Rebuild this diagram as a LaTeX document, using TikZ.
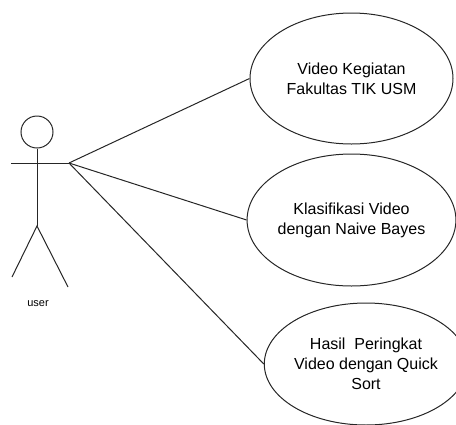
\documentclass[tikz,border=0pt]{standalone}
\usepackage{fontspec}
\setmainfont{Liberation Sans}
\usetikzlibrary{shapes.geometric}
\begin{document}
\begin{tikzpicture}[x=1pt,y=-1pt,
  lin/.style={draw=black!85, line width=1pt},
  usecase/.style={ellipse, lin, align=center, inner sep=0pt,
    minimum width=203pt, minimum height=131pt,
    font=\fontsize{16}{20}\selectfont},
  lbl/.style={font=\fontsize{11}{13}\selectfont, inner sep=0pt}]
\useasboundingbox (0,0) rectangle (456,424);
\clip (0,0) rectangle (456,424);
% actor
\node[circle, lin, minimum size=32pt, inner sep=0pt] (head) at (37,132) {};
\coordinate (hip) at (37,226);
\coordinate (lhand) at (11,163);
\coordinate (hand) at (69,163);
\coordinate (lfoot) at (12,277);
\coordinate (rfoot) at (68,287);
\draw[lin] (head.south) -- (hip);
\draw[lin] (lhand) -- (hand);
\draw[lin] (lfoot) -- (hip) -- (rfoot);
\node[lbl] (user) at (38,304) {user};
% use cases
\node[usecase] (e1) at (351.5,78.5) {Video Kegiatan\\Fakultas TIK USM};
\node[usecase, minimum height=132pt] (e2) at (351.5,220) {Klasifikasi Video\\dengan Naive Bayes};
\node[usecase, minimum height=122pt] (e3) at (366,364) {Hasil\ \ Peringkat\\Video dengan Quick\\Sort};
% connectors
\draw[lin] (hand) -- (e1.west);
\draw[lin] (hand) -- (e2.west);
\draw[lin] (hand) -- (e3.west);
\end{tikzpicture}
\end{document}
